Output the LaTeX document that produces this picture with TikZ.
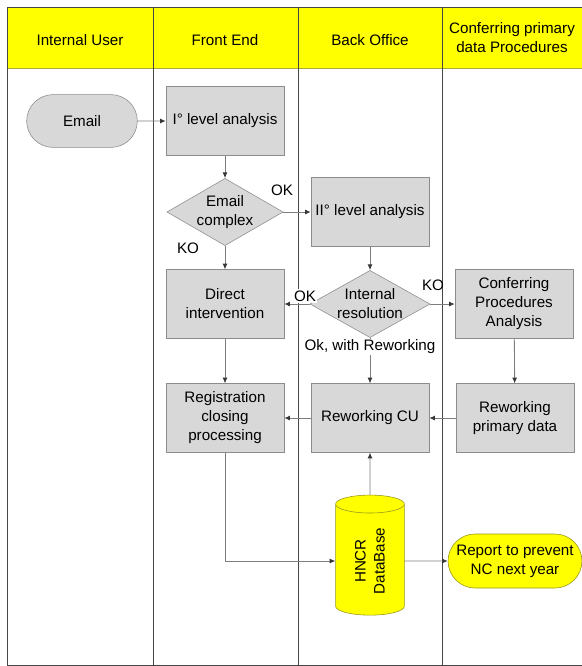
\documentclass[tikz,border=0pt]{standalone}
\usepackage{fontspec}
\setmainfont{Liberation Sans}
\usetikzlibrary{arrows.meta, positioning, shapes.geometric, shapes.misc}
\definecolor{lanegray}{RGB}{70,70,70}
\definecolor{boxfill}{RGB}{216,216,216}
\definecolor{boxline}{RGB}{140,140,140}
\definecolor{linegray}{RGB}{125,125,125}
\definecolor{tipgray}{RGB}{55,55,55}
\definecolor{hdr}{RGB}{255,255,0}
\definecolor{hdrline}{RGB}{170,170,60}
\definecolor{ylwline}{RGB}{150,150,30}

\begin{document}
\begin{tikzpicture}[x=0.025cm, y=-0.025cm,
    font=\fontsize{10.8}{13.5}\selectfont,
    task/.style={rectangle, draw=boxline, fill=boxfill, align=center,
                 minimum width=2.95cm, minimum height=1.72cm, inner sep=2pt},
    decision/.style={diamond, draw=boxline, fill=boxfill, align=center,
                     aspect=1.8, inner sep=0pt,
                     minimum width=2.9cm, minimum height=1.68cm},
    terminal/.style={rounded rectangle, draw=boxline, fill=boxfill,
                     minimum width=3.0cm, minimum height=1.32cm},
    flow/.style={draw=linegray, line width=0.6pt,
                 -{Latex[length=4pt, width=3.5pt, color=tipgray]}},
    lbl/.style={inner sep=1pt}]
  \useasboundingbox (0,0) rectangle (582,666);
  % lanes and header
  \fill[hdr] (7,7) rectangle (582,68);
  \draw[hdrline] (7,68) -- (582,68);
  \draw[lanegray, line width=0.5pt] (582,7) -- (7,7) -- (7,665) -- (582,665);
  \foreach \x in {153,298,442}
    \draw[lanegray, line width=0.5pt] (\x,7) -- (\x,665);
  \node (hUser) at (80,40) {Internal User};
  \node (hFront) at (225,40) {Front End};
  \node (hBack) at (370,40) {Back Office};
  \node[align=center] (hConf) at (512,38) {Conferring primary\\data Procedures};
  % steps
  \node[terminal] (email) at (82,121) {Email};
  \node[task] (lvlOne) at (225,121) {I° level analysis};
  \node[decision] (cplx) at (225,212) {Email\\complex};
  \node[task] (lvlTwo) at (370,212) {II° level analysis};
  \node[decision] (intRes) at (370,304) {Internal\\resolution};
  \node[task] (direct) at (225,304) {Direct\\intervention};
  \node[task] (confAn) at (514,304) {Conferring\\Procedures\\Analysis};
  \node[task] (regist) at (225,418) {Registration\\closing\\processing};
  \node[task] (rwCU) at (370,418) {Reworking CU};
  \node[task] (rwData) at (515,418) {Reworking\\primary data};
  \node[cylinder, rotate=90, draw=ylwline, fill=hdr, aspect=0.55,
        minimum width=1.72cm, minimum height=3.0cm, inner sep=1pt,
        align=center]
    (db) at (370,561) {HNCR\\DataBase};
  \node[rounded rectangle, draw=ylwline, fill=hdr, align=center,
        minimum width=3.1cm, minimum height=1.35cm, inner xsep=2pt]
    (report) at (515,561) {Report to prevent\\NC next year};
  % connectors
  \draw[flow] (email) -- (lvlOne);
  \draw[flow] (lvlOne) -- (cplx);
  \draw[flow] (cplx) -- (lvlTwo);
  \draw[flow] (cplx) -- (direct);
  \draw[flow] (lvlTwo) -- (intRes);
  \draw[flow] (intRes) -- (direct);
  \draw[flow] (intRes) -- (confAn);
  \draw[flow] (intRes) -- (rwCU);
  \draw[flow] (direct) -- (regist);
  \draw[flow] (confAn) -- (rwData);
  \draw[flow] (rwData) -- (rwCU);
  \draw[flow] (rwCU) -- (regist);
  \draw[flow] (db) -- (rwCU);
  \draw[flow] (regist.south) |- (db);
  \draw[flow] (db) -- (report);
  % labels
  \node[lbl] (okOne) at (282,190) {OK};
  \node[lbl] (koOne) at (188,248) {KO};
  \node[lbl, fill=white] (okTwo) at (305,296) {OK};
  \node[lbl] (koTwo) at (433,285) {KO};
  \node[lbl, fill=white] (okRw) at (370,347) {Ok, with Reworking};
\end{tikzpicture}
\end{document}
